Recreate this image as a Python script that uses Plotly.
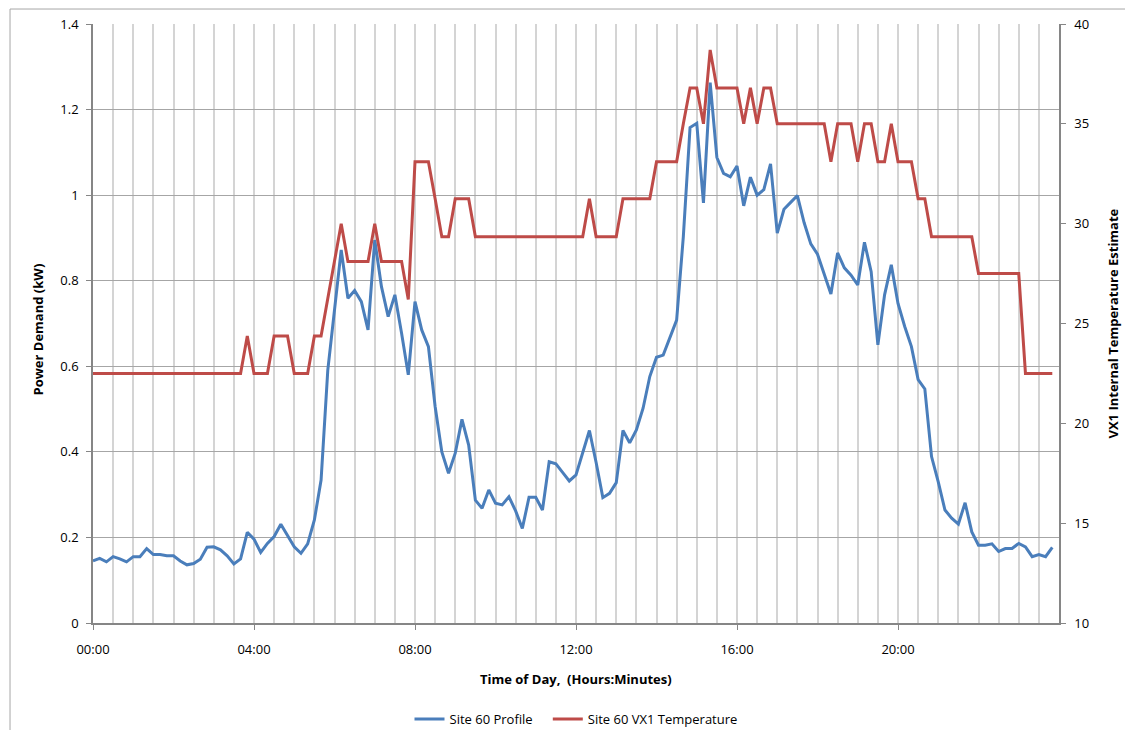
import plotly.graph_objects as go

# 10-minute sample times over one day
time_labels = [f"{h:02d}:{m:02d}" for h in range(24) for m in range(0, 60, 10)]

profile_kw = [
    0.145, 0.151, 0.143, 0.155, 0.150, 0.143, 0.155, 0.155, 0.174, 0.160,
    0.160, 0.157, 0.157, 0.145, 0.136, 0.139, 0.149, 0.177, 0.178, 0.171,
    0.157, 0.138, 0.150, 0.212, 0.196, 0.165, 0.186, 0.202, 0.231, 0.204,
    0.178, 0.163, 0.185, 0.241, 0.334, 0.591, 0.731, 0.872, 0.759, 0.777,
    0.751, 0.685, 0.895, 0.786, 0.716, 0.767, 0.677, 0.580, 0.751, 0.685,
    0.646, 0.506, 0.400, 0.350, 0.397, 0.476, 0.416, 0.287, 0.268, 0.311,
    0.280, 0.276, 0.295, 0.262, 0.221, 0.294, 0.294, 0.264, 0.377, 0.372,
    0.352, 0.332, 0.346, 0.399, 0.450, 0.375, 0.293, 0.303, 0.328, 0.450,
    0.421, 0.451, 0.502, 0.576, 0.621, 0.626, 0.668, 0.708, 0.903, 1.158,
    1.168, 0.982, 1.263, 1.088, 1.051, 1.043, 1.068, 0.975, 1.042, 1.000,
    1.013, 1.073, 0.911, 0.967, 0.983, 0.999, 0.936, 0.886, 0.862, 0.817,
    0.769, 0.865, 0.830, 0.813, 0.790, 0.890, 0.821, 0.650, 0.767, 0.837,
    0.747, 0.693, 0.646, 0.569, 0.547, 0.389, 0.330, 0.264, 0.245, 0.231,
    0.281, 0.213, 0.182, 0.182, 0.185, 0.167, 0.174, 0.174, 0.186, 0.178,
    0.155, 0.160, 0.155, 0.177,
]

vx1_temp = [
    22.5, 22.5, 22.5, 22.5, 22.5, 22.5, 22.5, 22.5, 22.5, 22.5,
    22.5, 22.5, 22.5, 22.5, 22.5, 22.5, 22.5, 22.5, 22.5, 22.5,
    22.5, 22.5, 22.5, 24.37, 22.5, 22.5, 22.5, 24.37, 24.37, 24.37,
    22.5, 22.5, 22.5, 24.37, 24.37, 26.25, 28.1, 30.0, 28.1, 28.1,
    28.1, 28.1, 30.0, 28.1, 28.1, 28.1, 28.1, 26.2, 33.1, 33.1,
    33.1, 31.25, 29.35, 29.35, 31.25, 31.25, 31.25, 29.35, 29.35, 29.35,
    29.35, 29.35, 29.35, 29.35, 29.35, 29.35, 29.35, 29.35, 29.35, 29.35,
    29.35, 29.35, 29.35, 29.35, 31.25, 29.35, 29.35, 29.35, 29.35, 31.25,
    31.25, 31.25, 31.25, 31.25, 33.1, 33.1, 33.1, 33.1, 35.0, 36.8,
    36.8, 35.0, 38.7, 36.8, 36.8, 36.8, 36.8, 35.0, 36.8, 35.0,
    36.8, 36.8, 35.0, 35.0, 35.0, 35.0, 35.0, 35.0, 35.0, 35.0,
    33.1, 35.0, 35.0, 35.0, 33.1, 35.0, 35.0, 33.1, 33.1, 35.0,
    33.1, 33.1, 33.1, 31.25, 31.25, 29.35, 29.35, 29.35, 29.35, 29.35,
    29.35, 29.35, 27.5, 27.5, 27.5, 27.5, 27.5, 27.5, 27.5, 22.5,
    22.5, 22.5, 22.5, 22.5,
]

tick_hours = [0, 4, 8, 12, 16, 20]
tick_text = ["00:00", "04:00", "08:00", "12:00", "16:00", "20:00"]


def to_hours(label):
    h, m = label.split(":")
    return int(h) + int(m) / 60.0


x_hours = [to_hours(t) for t in time_labels]

FONT = "Open Sans, Lato, Calibri, sans-serif"
AXIS_COLOR = "#868686"

fig = go.Figure()
fig.add_trace(go.Scatter(
    x=x_hours, y=profile_kw, mode="lines", name="Site 60 Profile&nbsp;&nbsp;&nbsp;",
    line=dict(color="#4A7EBB", width=3), yaxis="y",
))
fig.add_trace(go.Scatter(
    x=x_hours, y=vx1_temp, mode="lines", name="Site 60 VX1 Temperature",
    line=dict(color="#BE4B48", width=3), yaxis="y2",
))

# page has an 8px body margin: figure is 16px smaller than the window
fig.update_layout(
    width=1117, height=722,
    margin=dict(l=85, r=66, t=16, b=107),
    paper_bgcolor="white", plot_bgcolor="white",
    font=dict(family=FONT, size=13, color="#000000"),
    showlegend=True,
    legend=dict(orientation="h", x=0.5, xanchor="center",
                yref="container", y=0.0152, yanchor="middle",
                font=dict(size=13), itemwidth=30),
    xaxis=dict(
        range=[0, 24], tickmode="array", tickvals=tick_hours, ticktext=tick_text,
        showgrid=True, gridcolor="#d4d4d4", gridwidth=1.5,
        minor=dict(tick0=0, dtick=0.5, showgrid=True, gridcolor="#d4d4d4", gridwidth=1.5),
        showline=True, linecolor=AXIS_COLOR, linewidth=1.5,
        ticks="outside", ticklen=5, tickcolor=AXIS_COLOR, tickwidth=1,
        ticklabelstandoff=9, zeroline=False, automargin=False,
    ),
    yaxis=dict(
        range=[0, 1.4], dtick=0.2, tick0=0,
        showgrid=True, gridcolor="#a6a6a6", gridwidth=1,
        showline=True, linecolor=AXIS_COLOR, linewidth=1.5,
        ticks="outside", ticklen=5, tickcolor=AXIS_COLOR, tickwidth=1,
        ticklabelstandoff=5, zeroline=False, automargin=False,
    ),
    yaxis2=dict(
        range=[10, 40], dtick=5, tick0=10, overlaying="y", side="right",
        showgrid=False, showline=True, linecolor=AXIS_COLOR, linewidth=1.5,
        ticks="outside", ticklen=5, tickcolor=AXIS_COLOR, tickwidth=1,
        ticklabelstandoff=6, zeroline=False, automargin=False,
    ),
    annotations=[
        dict(text="Time of Day,&nbsp; (Hours:Minutes)", xref="paper", yref="paper",
             x=0.5, y=-0.0935, xanchor="center", yanchor="middle", showarrow=False,
             font=dict(size=13, family=FONT, weight="bold")),
        dict(text="Power Demand (kW)", xref="paper", yref="paper",
             x=-0.0569, y=0.49, xanchor="center", yanchor="middle", showarrow=False,
             textangle=-90, font=dict(size=13, family=FONT, weight="bold")),
        dict(text="VX1 Internal Temperature Estimate", xref="paper", yref="paper",
             x=1.0549, y=0.5, xanchor="center", yanchor="middle", showarrow=False,
             textangle=-90, font=dict(size=13, family=FONT, weight="bold")),
    ],
    shapes=[
        dict(type="rect", xref="paper", yref="paper",
             x0=-0.0859, y0=-0.3, x1=1.2, y1=1.025,
             line=dict(color="#a6a6a6", width=1), fillcolor="rgba(0,0,0,0)", layer="below"),
    ],
)

fig.write_html("out.html")
